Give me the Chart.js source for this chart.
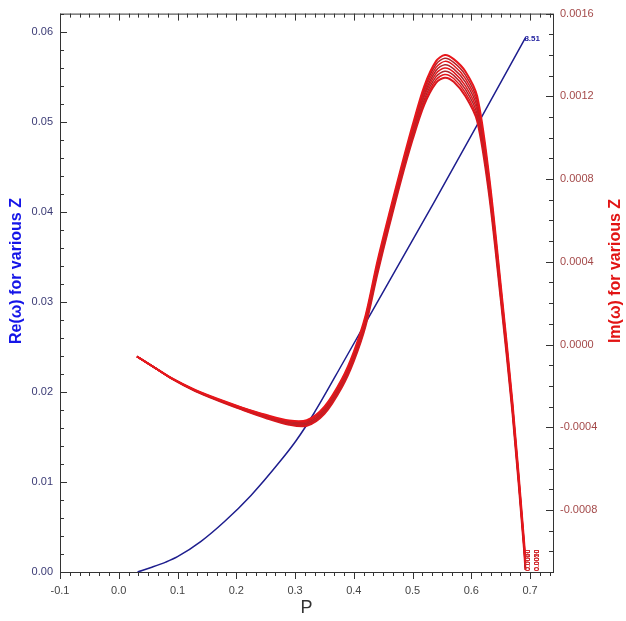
<!DOCTYPE html>
<html>
<head>
<meta charset="utf-8">
<title>Re and Im of omega against P</title>
<script src="https://cdn.jsdelivr.net/npm/chart.js@4.4.1/dist/chart.umd.min.js"></script>
<style>
  body { margin: 0; background: #fff; }
  #wrap { width: 626px; height: 621px; }
</style>
</head>
<body>
<div id="wrap"><canvas id="chart" width="626" height="621"></canvas></div>
<script>

// Im(omega) curves, one per Z, all sampled on the same P grid
const pGrid = [0.031, 0.06, 0.09, 0.13, 0.17, 0.21, 0.25, 0.29, 0.32, 0.35, 0.38, 0.40, 0.42, 0.44,
  0.46, 0.48, 0.50, 0.52, 0.54, 0.555, 0.57, 0.59, 0.61, 0.63, 0.65, 0.67, 0.69, 0.692];

const imZ1 = [-58e-6, -110e-6, -163e-6, -220e-6, -265e-6, -305e-6, -340e-6, -368e-6, -366e-6, -300e-6, -165e-6, -35e-6, 140e-6, 400e-6,
  630e-6, 850e-6, 1060e-6, 1250e-6, 1370e-6, 1400e-6, 1380e-6, 1320e-6, 1200e-6, 820e-6, 290e-6, -280e-6, -960e-6, -1060e-6];
const imZ2 = [-58e-6, -110e-6, -163e-6, -221e-6, -266e-6, -306e-6, -342e-6, -371e-6, -370e-6, -305e-6, -171e-6, -41e-6, 133e-6, 391e-6,
  621e-6, 841e-6, 1050e-6, 1237e-6, 1355e-6, 1384e-6, 1364e-6, 1303e-6, 1183e-6, 807e-6, 280e-6, -287e-6, -966e-6, -1064e-6];
const imZ3 = [-58e-6, -110e-6, -164e-6, -221e-6, -267e-6, -308e-6, -344e-6, -374e-6, -374e-6, -310e-6, -176e-6, -48e-6, 126e-6, 383e-6,
  613e-6, 833e-6, 1040e-6, 1224e-6, 1340e-6, 1369e-6, 1349e-6, 1286e-6, 1166e-6, 794e-6, 270e-6, -294e-6, -971e-6, -1069e-6];
const imZ4 = [-58e-6, -110e-6, -164e-6, -222e-6, -268e-6, -309e-6, -346e-6, -377e-6, -378e-6, -315e-6, -182e-6, -54e-6, 119e-6, 374e-6,
  604e-6, 824e-6, 1030e-6, 1211e-6, 1325e-6, 1353e-6, 1333e-6, 1269e-6, 1149e-6, 781e-6, 260e-6, -301e-6, -977e-6, -1073e-6];
const imZ5 = [-58e-6, -110e-6, -164e-6, -223e-6, -269e-6, -311e-6, -349e-6, -379e-6, -381e-6, -320e-6, -188e-6, -61e-6, 111e-6, 366e-6,
  596e-6, 816e-6, 1020e-6, 1199e-6, 1310e-6, 1337e-6, 1317e-6, 1251e-6, 1131e-6, 769e-6, 250e-6, -309e-6, -983e-6, -1077e-6];
const imZ6 = [-58e-6, -110e-6, -164e-6, -224e-6, -270e-6, -312e-6, -351e-6, -382e-6, -385e-6, -325e-6, -194e-6, -67e-6, 104e-6, 357e-6,
  587e-6, 807e-6, 1010e-6, 1186e-6, 1295e-6, 1321e-6, 1301e-6, 1234e-6, 1114e-6, 756e-6, 240e-6, -316e-6, -989e-6, -1081e-6];
const imZ7 = [-58e-6, -110e-6, -165e-6, -224e-6, -271e-6, -314e-6, -353e-6, -385e-6, -389e-6, -330e-6, -199e-6, -74e-6, 97e-6, 349e-6,
  579e-6, 799e-6, 1000e-6, 1173e-6, 1280e-6, 1306e-6, 1286e-6, 1217e-6, 1097e-6, 743e-6, 230e-6, -323e-6, -994e-6, -1086e-6];
const imZ8 = [-58e-6, -110e-6, -165e-6, -225e-6, -272e-6, -315e-6, -355e-6, -388e-6, -393e-6, -335e-6, -205e-6, -80e-6, 90e-6, 340e-6,
  570e-6, 790e-6, 990e-6, 1160e-6, 1265e-6, 1290e-6, 1270e-6, 1200e-6, 1080e-6, 730e-6, 220e-6, -330e-6, -1000e-6, -1090e-6];

const zLabels = ['0.0000', '0.0010', '0.0020', '0.0030', '0.0040', '0.0050', '0.0060', '0.0070'];

// Re(omega): the curves for every Z sit on top of each other
const reP = [0.032, 0.055, 0.08, 0.10, 0.14, 0.18, 0.225, 0.276, 0.302, 0.332, 0.383, 0.45, 0.537, 0.62, 0.692];
const reValues = [0, 0.0005, 0.0011, 0.0017, 0.0034, 0.0056, 0.0085, 0.0124, 0.0146, 0.0176, 0.0234, 0.0311, 0.0411, 0.0508, 0.0593];
const reLabel = '8.51';

// tick labels
const pTicks = [-0.1, 0.0, 0.1, 0.2, 0.3, 0.4, 0.5, 0.6, 0.7];
const reTicks = [0.00, 0.01, 0.02, 0.03, 0.04, 0.05, 0.06];
const imTicks = [-0.0008, -0.0004, 0.0000, 0.0004, 0.0008, 0.0012, 0.0016];

const imCurves = [imZ1, imZ2, imZ3, imZ4, imZ5, imZ6, imZ7, imZ8];
const redShades = ['#e8161b', '#b0242a', '#e3161b', '#b0242a', '#e3161b', '#b0242a', '#e3161b', '#d8181e'];

Chart.defaults.font.family = 'Liberation Sans, Arial, Helvetica, sans-serif';
Chart.defaults.font.size = 11;

let datasets = [];

imCurves.forEach((curve, k) => {
  datasets.push({
    label: 'Im Z' + (k + 1),
    data: pGrid.map((p, i) => ({x: p, y: curve[i]})),
    yAxisID: 'y1',
    borderColor: redShades[k],
    borderWidth: k === 0 || k === 7 ? 2 : 1.5,
    pointRadius: 0,
    tension: 0.3,
    fill: false
  });
});

datasets.push({
  label: 'Re',
  data: reP.map((p, i) => ({x: p, y: reValues[i]})),
  yAxisID: 'y',
  borderColor: '#1e1e8e',
  borderWidth: 1.5,
  pointRadius: 0,
  cubicInterpolationMode: 'monotone',
  fill: false
});

// frame, inward/outward tick marks, axis titles and curve end labels
const decor = {
  id: 'decor',
  afterDatasetsDraw(chart) {
    const ctx = chart.ctx;
    const a = chart.chartArea;
    const sx = chart.scales.x, sl = chart.scales.y, sr = chart.scales.y1;

    ctx.save();
    ctx.strokeStyle = '#333';
    ctx.lineWidth = 1;
    ctx.strokeRect(a.left + 0.5, a.top + 0.5, a.right - a.left, a.bottom - a.top);

    ctx.beginPath();
    // P axis: six minor steps per major step
    for (let i = -6; i <= 44; i++) {
      const px = Math.round(sx.getPixelForValue(i / 60)) + 0.5;
      const len = i % 6 === 0 ? 7 : 4;
      ctx.moveTo(px, a.bottom); ctx.lineTo(px, a.bottom + len);
      ctx.moveTo(px, a.top); ctx.lineTo(px, a.top + len);
    }
    // Re axis: minor every 0.002
    for (let i = 0; i <= 31; i++) {
      const py = Math.round(sl.getPixelForValue(i * 0.002)) + 0.5;
      const len = i % 5 === 0 ? 7 : 4;
      ctx.moveTo(a.left, py); ctx.lineTo(a.left + len, py);
    }
    // Im axis: minor every 0.0001
    for (let i = -11; i <= 16; i++) {
      const py = Math.round(sr.getPixelForValue(i * 0.0001)) + 0.5;
      const len = i % 4 === 0 ? 7 : 4;
      ctx.moveTo(a.right, py); ctx.lineTo(a.right - len, py);
    }
    ctx.stroke();

    // label at the end of the Re curve
    const lastRe = reP.length - 1;
    ctx.fillStyle = '#1e1e9e';
    ctx.font = 'bold 8px Liberation Sans, Arial, sans-serif';
    ctx.textAlign = 'left';
    ctx.textBaseline = 'middle';
    ctx.fillText(reLabel, sx.getPixelForValue(reP[lastRe]) - 1, sl.getPixelForValue(reValues[lastRe]) + 1);

    // Z labels at the ends of the Im curves, written upwards
    ctx.font = '7px Liberation Sans, Arial, sans-serif';
    ctx.fillStyle = '#d0282c';
    imCurves.forEach((curve, k) => {
      const px = sx.getPixelForValue(pGrid[pGrid.length - 1]);
      ctx.save();
      ctx.translate(px + (k % 2 ? 12 : 3), a.bottom - 1);
      ctx.rotate(-Math.PI / 2);
      ctx.textAlign = 'left';
      ctx.textBaseline = 'middle';
      ctx.fillText(zLabels[k], 0, 0);
      ctx.restore();
    });

    // axis titles
    ctx.font = 'bold 16px Liberation Sans, Arial, sans-serif';
    ctx.textAlign = 'center';
    ctx.textBaseline = 'middle';
    ctx.save();
    ctx.translate(17, 271);
    ctx.rotate(-Math.PI / 2);
    ctx.fillStyle = '#1515e8';
    ctx.fillText('Re(\u03c9) for various Z', 0, 0);
    ctx.restore();

    ctx.save();
    ctx.translate(616, 271);
    ctx.rotate(-Math.PI / 2);
    ctx.fillStyle = '#e21414';
    ctx.fillText('Im(\u03c9) for various Z', 0, 0);
    ctx.restore();

    ctx.font = '18px Liberation Sans, Arial, sans-serif';
    ctx.fillStyle = '#333';
    ctx.fillText('P', (a.left + a.right) / 2, 608);

    ctx.restore();
  }
};

const config = {
  type: 'line',
  data: { datasets: datasets },
  options: {
    responsive: false,
    animation: false,
    layout: { padding: { top: 11, left: 0, right: 0, bottom: 0 } },
    plugins: {
      legend: { display: false },
      tooltip: { enabled: false }
    },
    scales: {
      x: {
        type: 'linear',
        position: 'bottom',
        min: -0.1,
        max: 0.739,
        afterBuildTicks: s => { s.ticks = pTicks.map(v => ({value: v})); },
        afterFit: s => { s.height = 49; },
        grid: { display: false, drawTicks: false },
        border: { display: false },
        ticks: {
          color: '#444',
          padding: 12,
          maxRotation: 0,
          callback: v => Number(v).toFixed(1)
        }
      },
      y: {
        type: 'linear',
        position: 'left',
        min: 0,
        max: 0.062,
        afterBuildTicks: s => { s.ticks = reTicks.map(v => ({value: v})); },
        afterFit: s => { s.width = 60; },
        grid: { display: false, drawTicks: false },
        border: { display: false },
        ticks: {
          color: '#3b3b75',
          padding: 7,
          callback: v => Number(v).toFixed(2)
        }
      },
      y1: {
        type: 'linear',
        position: 'right',
        min: -0.0011,
        max: 0.0016,
        afterBuildTicks: s => { s.ticks = imTicks.map(v => ({value: v})); },
        afterFit: s => { s.width = 73; },
        grid: { display: false, drawTicks: false },
        border: { display: false },
        ticks: {
          color: '#a44a4a',
          padding: 7,
          callback: v => Number(v).toFixed(4)
        }
      }
    }
  },
  plugins: [decor]
};

var chart = new Chart(document.getElementById('chart'), config);
</script>
</body>
</html>
